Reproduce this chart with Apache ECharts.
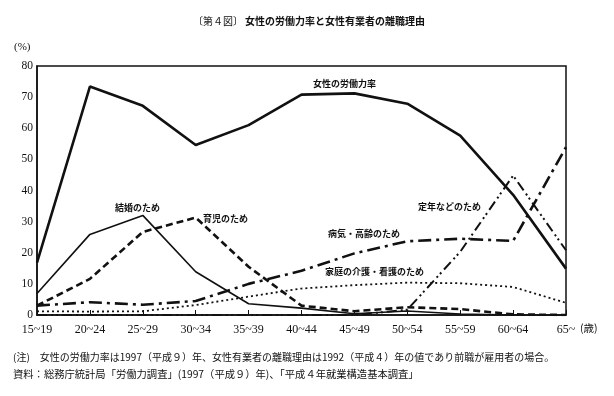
<!DOCTYPE html>
<html>
<head>
<meta charset="utf-8">
<script src="https://cdn.jsdelivr.net/npm/echarts@6/dist/echarts.min.js"></script>
<style>
html,body{margin:0;padding:0;background:#fff;}
#c{width:614px;height:396px;}
</style>
</head>
<body>
<div id="c"></div>
<script>
const categories = ['15~19','20~24','25~29','30~34','35~39','40~44','45~49','50~54','55~59','60~64','65~'];
const laborRate = [16.8, 73.4, 67.2, 54.6, 61.0, 70.8, 71.2, 67.9, 57.6, 38.6, 14.9];
const marriage  = [6.9, 25.9, 32.0, 13.9, 3.6, 2.2, 0.4, 1.3, 0.3, 0, 0];
const childcare = [3.0, 11.6, 26.7, 31.3, 15.5, 3.0, 1.2, 2.5, 1.9, 0.2, 0];
const illness   = [3.0, 4.1, 3.3, 4.5, 10.0, 14.2, 19.8, 23.7, 24.5, 23.8, 53.9];
const retirement= [0, 0, 0, 0, 0, 0, 0, 1.7, 20.3, 44.8, 20.8];
const nursing   = [1.2, 1.1, 1.2, 3.2, 5.9, 8.5, 9.6, 10.4, 10.2, 9.0, 3.9];
const yTicks = [0,10,20,30,40,50,60,70,80];

const serif = "'Liberation Serif','Noto Sans CJK JP',serif";
const jp = "'Noto Sans CJK JP',sans-serif";

const chart = echarts.init(document.getElementById('c'));
function line(name, data, width, type, color) {
  return {
    name, type: 'line', data, symbol: 'none', silent: true,
    lineStyle: { color: color || '#111', width, type },
    z: 3
  };
}
const txt = (x, y, s, size, weight, align) => ({
  type: 'text', x, y,
  style: { text: s, font: (weight||'normal') + ' ' + size + 'px ' + jp, fill: '#111',
           textAlign: align || 'left', textVerticalAlign: 'middle' }
});
chart.setOption({
  animation: false,
  backgroundColor: '#fff',
  grid: { left: 37, right: 48, top: 66, bottom: 81, show: true, borderColor: '#111', borderWidth: 1.5, backgroundColor: 'transparent' },
  xAxis: {
    type: 'category', data: categories, boundaryGap: false,
    axisLine: { lineStyle: { color: '#111', width: 1.5 } },
    axisTick: { inside: true, length: 5, lineStyle: { color: '#111' } },
    axisLabel: { color: '#111', fontFamily: serif, fontSize: 12, margin: 9, interval: 0 },
    splitLine: { show: false }
  },
  yAxis: {
    type: 'value', min: 0, max: 80, interval: 10,
    axisLine: { show: true, lineStyle: { color: '#111', width: 1.5 } },
    axisTick: { show: false },
    axisLabel: { color: '#111', fontFamily: serif, fontSize: 11.5, margin: 4,
      formatter: v => yTicks.includes(v) ? String(v) : '' },
    splitLine: { show: false }
  },
  series: [
    line('女性の労働力率', laborRate, 2.6, 'solid'),
    line('結婚のため', marriage, 1.6, 'solid'),
    line('育児のため', childcare, 2.6, [7, 4]),
    line('病気・高齢のため', illness, 2.6, [13, 5, 3, 5]),
    line('定年などのため', retirement, 2, [10, 4, 2, 3, 2, 4]),
    line('家庭の介護・看護のため', nursing, 1.8, [2, 3])
  ],
  graphic: [
    txt(193, 21, '〔第４図〕', 10, 'normal', 'left'),
    txt(245, 21, '女性の労働力率と女性有業者の離職理由', 10, 'bold', 'left'),
    { type:'text', x: 14, y: 47, style: { text: '(%)', font: '11px ' + serif, fill: '#111', textVerticalAlign: 'middle' } },
    txt(580, 328, '(歳)', 10.5, 'normal', 'left'),
    txt(313, 84, '女性の労働力率', 9, 'bold'),
    txt(115, 208, '結婚のため', 9, 'bold'),
    txt(203, 219, '育児のため', 9, 'bold'),
    txt(418, 207, '定年などのため', 9, 'bold'),
    txt(328, 234, '病気・高齢のため', 9, 'bold'),
    txt(325, 272, '家庭の介護・看護のため', 9, 'bold'),
    txt(13, 357, '(注)　女性の労働力率は1997（平成９）年、女性有業者の離職理由は1992（平成４）年の値であり前職が雇用者の場合。', 10),
    txt(13, 374, '資料：総務庁統計局「労働力調査」(1997（平成９）年)、「平成４年就業構造基本調査」', 10.3)
  ]
});
</script>
</body>
</html>
